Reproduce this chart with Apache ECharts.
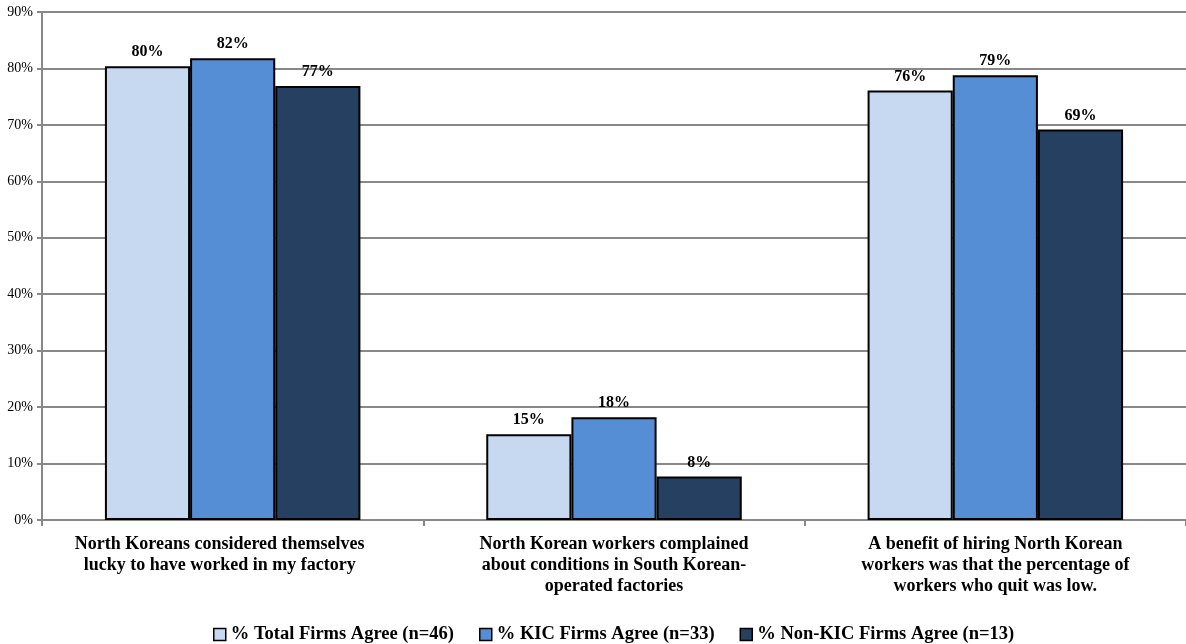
<!DOCTYPE html>
<html>
<head>
<meta charset="utf-8">
<script src="https://cdn.jsdelivr.net/npm/echarts@6/dist/echarts.min.js"></script>
<style>
  html, body { margin: 0; padding: 0; background: #fff; }
  #main { width: 1186px; height: 644px; }
</style>
</head>
<body>
<div id="main"></div>
<script>
// categories and series values (percent agree)
const categories = [
  'North Koreans considered themselves\nlucky to have worked in my factory',
  'North Korean workers complained\nabout conditions in South Korean-\noperated factories',
  'A benefit of hiring North Korean\nworkers was that the percentage of\nworkers who quit was low.'
];
const totalFirms = [80.4, 15.2, 76.1];
const kicFirms = [81.8, 18.2, 78.8];
const nonKicFirms = [76.9, 7.7, 69.2];
const seriesNames = [
  '% Total Firms Agree (n=46)',
  '% KIC Firms Agree (n=33)',
  '% Non-KIC Firms Agree (n=13)'
];
const colors = ['#C6D9F1', '#558ED5', '#254061'];

const font = 'Times New Roman, Liberation Serif, serif';
const chart = echarts.init(document.getElementById('main'));

function makeSeries(name, data, color) {
  return {
    name: name,
    type: 'bar',
    data: data,
    barGap: '0%',
    barCategoryGap: '33%',
    itemStyle: { color: color, borderColor: '#000', borderWidth: 2 },
    label: {
      show: true,
      position: 'top',
      distance: 6,
      formatter: p => Math.round(p.value) + '%',
      fontFamily: font,
      fontWeight: 'bold',
      fontSize: 16,
      color: '#000'
    }
  };
}

// first label sits a little left of its category centre in the original
const xData = categories.map((c, i) => i === 0
  ? { value: c, textStyle: { padding: [0, 26, 0, 0] } }
  : c);

const option = {
  animation: false,
  grid: { left: 42, right: -6, top: 12, bottom: 124, containLabel: false },
  legend: {
    top: 620,
    left: 208,
    itemWidth: 12,
    itemHeight: 12,
    itemGap: 25,
    icon: 'rect',
    itemStyle: { borderColor: '#000', borderWidth: 1.5 },
    textStyle: { fontFamily: font, fontWeight: 'bold', fontSize: 18.5, color: '#000' },
    data: seriesNames
  },
  xAxis: {
    type: 'category',
    data: xData,
    axisLine: { lineStyle: { color: '#888', width: 2 } },
    axisTick: { show: true, alignWithLabel: false, length: 6, lineStyle: { color: '#888', width: 2 } },
    axisLabel: {
      interval: 0,
      margin: 14,
      fontFamily: font,
      fontWeight: 'bold',
      fontSize: 18,
      lineHeight: 21,
      color: '#000',
      align: 'center'
    }
  },
  yAxis: {
    type: 'value',
    min: 0,
    max: 90,
    interval: 10,
    axisLine: { show: true, lineStyle: { color: '#888', width: 2 } },
    axisTick: { show: true, length: 5, lineStyle: { color: '#888', width: 2 } },
    splitLine: { lineStyle: { color: '#888', width: 2 } },
    axisLabel: {
      formatter: '{value}%',
      fontFamily: font,
      fontSize: 14,
      color: '#000',
      margin: 9
    }
  },
  series: [
    makeSeries(seriesNames[0], totalFirms, colors[0]),
    makeSeries(seriesNames[1], kicFirms, colors[1]),
    makeSeries(seriesNames[2], nonKicFirms, colors[2])
  ]
};

chart.setOption(option);
</script>
</body>
</html>
